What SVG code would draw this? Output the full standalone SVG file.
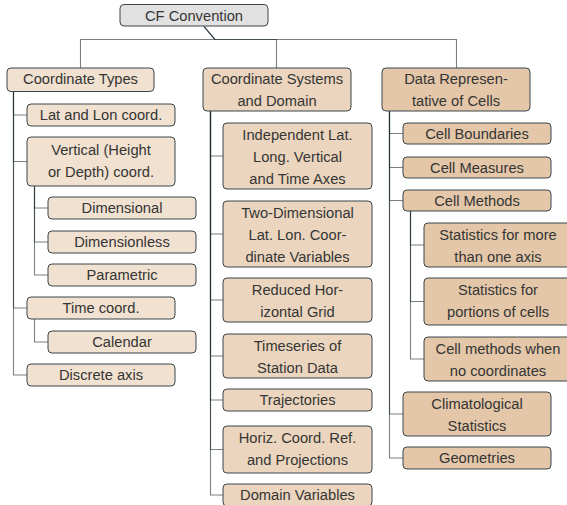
<svg xmlns="http://www.w3.org/2000/svg" width="567" height="505" viewBox="0 0 567 505">
<style>
.n rect{stroke:#3b4649;stroke-width:1}
.r{fill:#e1e1e1}.a{fill:#f1e1d0}.b{fill:#ebd5be}.c{fill:#e3c7a8}
text{font-family:"Liberation Sans",Arial,sans-serif;font-size:14.7px;fill:#353535;text-anchor:middle}
#edges path{fill:none;stroke:#1f2d31;stroke-opacity:0.6;stroke-width:1.1}
</style>
<g id="edges">
<path d="M204,26.5 L215,39.5 H80.5 V68"/>
<path d="M204,26.5 L215,39.5 H276.5 V68"/>
<path d="M204,26.5 L215,39.5 H456.5 V68"/>
<path d="M13.5,91.5 V115 H27"/>
<path d="M13.5,91.5 V161.5 H27"/>
<path d="M13.5,91.5 V308 H27"/>
<path d="M13.5,91.5 V375 H27"/>
<path d="M34.5,186 V208 H48"/>
<path d="M34.5,186 V242 H48"/>
<path d="M34.5,186 V275 H48"/>
<path d="M34.5,319 V342 H48"/>
<path d="M210.5,111 V156 H223"/>
<path d="M210.5,111 V234 H223"/>
<path d="M210.5,111 V300 H223"/>
<path d="M210.5,111 V356 H223"/>
<path d="M210.5,111 V400 H223"/>
<path d="M210.5,111 V449.5 H223"/>
<path d="M210.5,111 V495 H223"/>
<path d="M389.5,111 V133.5 H403"/>
<path d="M389.5,111 V167.5 H403"/>
<path d="M389.5,111 V200.5 H403"/>
<path d="M389.5,111 V414 H403"/>
<path d="M389.5,111 V458 H403"/>
<path d="M410.5,211 V245 H424"/>
<path d="M410.5,211 V301.5 H424"/>
<path d="M410.5,211 V359 H424"/>
</g>
<g id="root" class="n"><rect class="r" x="120" y="4.5" width="148" height="21.5" rx="4"/><text x="194" y="20.5">CF Convention</text></g>
<g id="coordinate-types" class="n"><rect class="a" x="7" y="68" width="147" height="23.5" rx="4"/><text x="80.5" y="84">Coordinate Types</text></g>
<g id="coordinate-systems" class="n"><rect class="b" x="203" y="68" width="148" height="43" rx="4"/><text x="277" y="84">Coordinate Systems</text><text x="277" y="106">and Domain</text></g>
<g id="data-rep" class="n"><rect class="c" x="382" y="68" width="148" height="43" rx="4"/><text x="456" y="84">Data Represen-</text><text x="456" y="106">tative of Cells</text></g>

<g id="lat-lon" class="n"><rect class="a" x="27" y="104" width="148" height="22" rx="4"/><text x="101" y="120">Lat and Lon coord.</text></g>
<g id="vertical" class="n"><rect class="a" x="27" y="137" width="148" height="49" rx="4"/><text x="101" y="155">Vertical (Height</text><text x="101" y="177">or Depth) coord.</text></g>
<g id="dimensional" class="n"><rect class="a" x="48" y="197" width="148" height="22" rx="4"/><text x="122" y="213">Dimensional</text></g>
<g id="dimensionless" class="n"><rect class="a" x="48" y="231" width="148" height="22" rx="4"/><text x="122" y="247">Dimensionless</text></g>
<g id="parametric" class="n"><rect class="a" x="48" y="264" width="148" height="22" rx="4"/><text x="122" y="280">Parametric</text></g>
<g id="time" class="n"><rect class="a" x="27" y="297" width="148" height="22" rx="4"/><text x="101" y="313">Time coord.</text></g>
<g id="calendar" class="n"><rect class="a" x="48" y="331" width="148" height="22" rx="4"/><text x="122" y="347">Calendar</text></g>
<g id="discrete" class="n"><rect class="a" x="27" y="364" width="148" height="22" rx="4"/><text x="101" y="380">Discrete axis</text></g>

<g id="independent" class="n"><rect class="b" x="223" y="123" width="149" height="66" rx="4"/><text x="297.5" y="140">Independent Lat.</text><text x="297.5" y="162">Long. Vertical</text><text x="297.5" y="184">and Time Axes</text></g>
<g id="two-dim" class="n"><rect class="b" x="223" y="201" width="149" height="66" rx="4"/><text x="297.5" y="218">Two-Dimensional</text><text x="297.5" y="240">Lat. Lon. Coor-</text><text x="297.5" y="262">dinate Variables</text></g>
<g id="reduced" class="n"><rect class="b" x="223" y="278" width="149" height="44" rx="4"/><text x="297.5" y="295">Reduced Hor-</text><text x="297.5" y="317">izontal Grid</text></g>
<g id="timeseries" class="n"><rect class="b" x="223" y="334" width="149" height="44" rx="4"/><text x="297.5" y="351">Timeseries of</text><text x="297.5" y="373">Station Data</text></g>
<g id="trajectories" class="n"><rect class="b" x="223" y="389" width="149" height="22" rx="4"/><text x="297.5" y="405">Trajectories</text></g>
<g id="horiz" class="n"><rect class="b" x="223" y="426" width="149" height="47" rx="4"/><text x="297.5" y="443">Horiz. Coord. Ref.</text><text x="297.5" y="465">and Projections</text></g>
<g id="domain" class="n"><rect class="b" x="223" y="484" width="149" height="22" rx="4"/><text x="297.5" y="500">Domain Variables</text></g>

<g id="cell-boundaries" class="n"><rect class="c" x="403" y="123" width="148" height="21" rx="4"/><text x="477" y="139">Cell Boundaries</text></g>
<g id="cell-measures" class="n"><rect class="c" x="403" y="157" width="148" height="21" rx="4"/><text x="477" y="173">Cell Measures</text></g>
<g id="cell-methods" class="n"><rect class="c" x="403" y="190" width="148" height="21" rx="4"/><text x="477" y="206">Cell Methods</text></g>
<g id="stat-more" class="n"><rect class="c" x="424" y="223" width="148" height="44" rx="4"/><text x="498" y="240">Statistics for more</text><text x="498" y="262">than one axis</text></g>
<g id="stat-portions" class="n"><rect class="c" x="424" y="278" width="148" height="47" rx="4"/><text x="498" y="295">Statistics for</text><text x="498" y="317">portions of cells</text></g>
<g id="no-coords" class="n"><rect class="c" x="424" y="337" width="148" height="44" rx="4"/><text x="498" y="354">Cell methods when</text><text x="498" y="376">no coordinates</text></g>
<g id="climatological" class="n"><rect class="c" x="403" y="392" width="148" height="44" rx="4"/><text x="477" y="409">Climatological</text><text x="477" y="431">Statistics</text></g>
<g id="geometries" class="n"><rect class="c" x="403" y="447" width="148" height="22" rx="4"/><text x="477" y="463">Geometries</text></g>
</svg>
